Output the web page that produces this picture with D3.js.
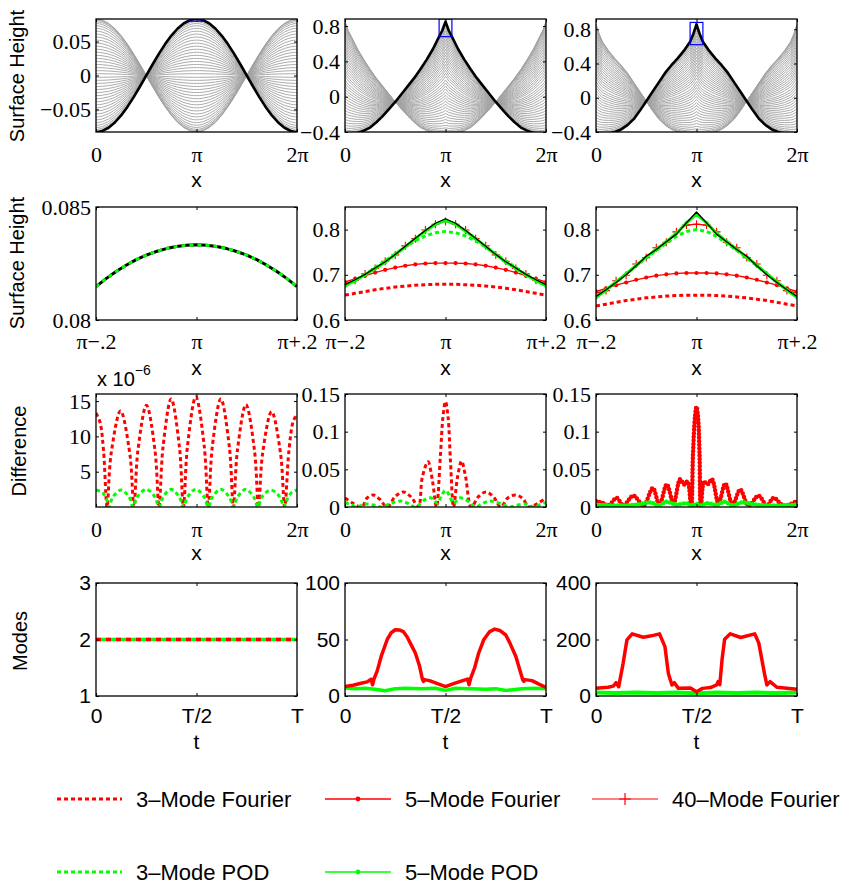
<!DOCTYPE html>
<html><head><meta charset="utf-8">
<script src="https://cdn.jsdelivr.net/npm/d3@7"></script>
<style>body{margin:0;background:#fff}</style>
</head><body><svg id="c" width="850" height="889"></svg>
<script>
// ================= DATA =================
// Row 1: x in units of pi (0..2)
const topGrid=[0,0.016,0.032,0.0637,0.125,0.1875,0.25,0.3125,0.375,0.4375,0.5,0.5625,0.625,0.6875,0.75,0.8125,0.875,0.9363,0.968,0.984,1,1.016,1.032,1.0637,1.125,1.1875,1.25,1.3125,1.375,1.4375,1.5,1.5625,1.625,1.6875,1.75,1.8125,1.875,1.9363,1.968,1.984,2];
const top1Crest=[-0.0833,-0.0832,-0.0829,-0.0817,-0.0770,-0.0693,-0.0589,-0.0463,-0.0319,-0.0162,0,0.0162,0.0319,0.0463,0.0589,0.0693,0.0770,0.0817,0.0829,0.0832,0.0833,0.0832,0.0829,0.0817,0.0770,0.0693,0.0589,0.0463,0.0319,0.0162,0,-0.0162,-0.0319,-0.0463,-0.0589,-0.0693,-0.0770,-0.0817,-0.0829,-0.0832,-0.0833];
const top1Trough=[0.0833,0.0832,0.0829,0.0817,0.0770,0.0693,0.0589,0.0463,0.0319,0.0162,0,-0.0162,-0.0319,-0.0463,-0.0589,-0.0693,-0.0770,-0.0817,-0.0829,-0.0832,-0.0833,-0.0832,-0.0829,-0.0817,-0.0770,-0.0693,-0.0589,-0.0463,-0.0319,-0.0162,0,0.0162,0.0319,0.0463,0.0589,0.0693,0.0770,0.0817,0.0829,0.0832,0.0833];
const top2Crest=[-0.43,-0.43,-0.43,-0.425,-0.41,-0.385,-0.35,-0.29,-0.22,-0.14,-0.06,0.03,0.12,0.21,0.31,0.42,0.54,0.68,0.75,0.80,0.85,0.80,0.75,0.68,0.54,0.42,0.31,0.21,0.12,0.03,-0.06,-0.14,-0.22,-0.29,-0.35,-0.385,-0.41,-0.425,-0.43,-0.43,-0.43];
const top2Trough=[0.85,0.80,0.75,0.68,0.54,0.42,0.31,0.21,0.12,0.03,-0.06,-0.14,-0.22,-0.29,-0.35,-0.385,-0.41,-0.425,-0.43,-0.43,-0.43,-0.43,-0.43,-0.425,-0.41,-0.385,-0.35,-0.29,-0.22,-0.14,-0.06,0.03,0.12,0.21,0.31,0.42,0.54,0.68,0.75,0.80,0.85];
const top3Crest=[-0.44,-0.44,-0.44,-0.435,-0.42,-0.40,-0.37,-0.32,-0.25,-0.15,-0.04,0.07,0.18,0.29,0.38,0.46,0.55,0.655,0.745,0.80,0.86,0.80,0.745,0.655,0.55,0.46,0.38,0.29,0.18,0.07,-0.04,-0.15,-0.25,-0.32,-0.37,-0.40,-0.42,-0.435,-0.44,-0.44,-0.44];
const top3Trough=[0.86,0.80,0.745,0.655,0.55,0.46,0.38,0.29,0.18,0.07,-0.04,-0.15,-0.25,-0.32,-0.37,-0.40,-0.42,-0.435,-0.44,-0.44,-0.44,-0.44,-0.44,-0.435,-0.42,-0.40,-0.37,-0.32,-0.25,-0.15,-0.04,0.07,0.18,0.29,0.38,0.46,0.55,0.655,0.745,0.80,0.86];
// share of the crest snapshot in each grey time snapshot
const topWeights=[0,0.004,0.012,0.024,0.04,0.06,0.083,0.108,0.134,0.16,0.187,0.214,0.241,0.268,0.295,0.322,0.349,0.376,0.403,0.43,0.457,0.484,0.516,0.543,0.57,0.597,0.624,0.651,0.678,0.705,0.732,0.759,0.786,0.813,0.84,0.866,0.892,0.917,0.94,0.96,0.976,0.988,0.996,1];

// Row 2: x offset from pi
const r2Grid=[-0.2,-0.18,-0.16,-0.14,-0.12,-0.1,-0.08,-0.06,-0.04,-0.02,0,0.02,0.04,0.06,0.08,0.1,0.12,0.14,0.16,0.18,0.2];
const r2p1Exact=[0.08148,0.08183,0.08215,0.08242,0.08267,0.08287,0.08303,0.08316,0.08325,0.08331,0.08333,0.08331,0.08325,0.08316,0.08303,0.08287,0.08267,0.08242,0.08215,0.08183,0.08148];
const r2p1Pod3=[0.08148,0.08183,0.08215,0.08242,0.08267,0.08287,0.08303,0.08316,0.08325,0.08331,0.08333,0.08331,0.08325,0.08316,0.08303,0.08287,0.08267,0.08242,0.08215,0.08183,0.08148];
const r2p2Exact=[0.678,0.689,0.701,0.715,0.729,0.745,0.763,0.781,0.798,0.814,0.824,0.814,0.798,0.781,0.763,0.745,0.729,0.715,0.701,0.689,0.678];
const r2p2F40=[0.680,0.688,0.702,0.714,0.730,0.744,0.764,0.780,0.799,0.812,0.818,0.812,0.799,0.780,0.764,0.744,0.730,0.714,0.702,0.688,0.680];
const r2p2P5=[0.676,0.687,0.700,0.714,0.728,0.745,0.762,0.780,0.797,0.812,0.820,0.812,0.797,0.780,0.762,0.745,0.728,0.714,0.700,0.687,0.676];
const r2p2P3=[0.675,0.688,0.701,0.716,0.731,0.746,0.762,0.775,0.786,0.793,0.796,0.793,0.786,0.775,0.762,0.746,0.731,0.716,0.701,0.688,0.675];
const r2p2F5=[0.684,0.691,0.698,0.705,0.711,0.716,0.720,0.723,0.725,0.726,0.726,0.726,0.725,0.723,0.720,0.716,0.711,0.705,0.698,0.691,0.684];
const r2p2F3=[0.655,0.659,0.663,0.667,0.670,0.673,0.675,0.677,0.678,0.679,0.679,0.679,0.678,0.677,0.675,0.673,0.670,0.667,0.663,0.659,0.655];
const r2p3Exact=[0.652,0.667,0.683,0.700,0.720,0.741,0.756,0.773,0.790,0.815,0.839,0.815,0.790,0.773,0.756,0.741,0.720,0.700,0.683,0.667,0.652];
const r2p3F40=[0.660,0.665,0.687,0.699,0.724,0.738,0.760,0.772,0.795,0.810,0.812,0.810,0.795,0.772,0.760,0.738,0.724,0.699,0.687,0.665,0.660];
const r2p3P5=[0.650,0.666,0.684,0.702,0.721,0.739,0.756,0.773,0.792,0.815,0.834,0.815,0.792,0.773,0.756,0.739,0.721,0.702,0.684,0.666,0.650];
const r2p3P3=[0.650,0.667,0.684,0.702,0.720,0.737,0.754,0.770,0.785,0.796,0.800,0.796,0.785,0.770,0.754,0.737,0.720,0.702,0.684,0.667,0.650];
const r2p3F5=[0.663,0.670,0.677,0.683,0.689,0.694,0.698,0.701,0.703,0.704,0.704,0.704,0.703,0.701,0.698,0.694,0.689,0.683,0.677,0.670,0.663];
const r2p3F3=[0.631,0.635,0.639,0.643,0.646,0.649,0.651,0.653,0.654,0.655,0.655,0.655,0.654,0.653,0.651,0.649,0.646,0.643,0.639,0.635,0.631];

// Row 3: x in units of pi
const d1F3X=[0,0.04,0.075,0.11,0.15,0.244,0.337,0.377,0.417,0.502,0.587,0.627,0.667,0.748,0.83,0.87,0.91,0.993,1.077,1.117,1.157,1.242,1.327,1.367,1.407,1.492,1.577,1.617,1.657,1.747,1.837,1.877,1.92,1.96,2];
const d1F3=[13.3,12.0,8.0,0,7.5,13.6,7.5,0,8.0,14.4,8.0,0,8.5,15.3,8.5,0,8.6,15.6,8.6,0,8.5,15.3,8.5,0,8.0,14.5,8.0,0,7.5,13.5,7.5,0,8.0,12.0,13.2];
const d1P3X=[0,0.06,0.1,0.127,0.167,0.25,0.33,0.37,0.41,0.5,0.587,0.627,0.667,0.748,0.83,0.87,0.91,0.993,1.077,1.117,1.157,1.242,1.327,1.367,1.407,1.49,1.57,1.61,1.65,1.74,1.83,1.87,1.91,1.95,2];
const d1P3=[2.4,2.1,1.3,0,1.4,2.4,1.4,0,1.4,2.5,1.4,0,1.4,2.5,1.4,0,1.4,2.5,1.4,0,1.4,2.5,1.4,0,1.4,2.5,1.4,0,1.4,2.4,1.4,0,1.3,2.1,2.4];
const d2F3X=[0,0.08,0.166,0.22,0.28,0.34,0.42,0.5,0.58,0.66,0.73,0.77,0.826,0.87,0.91,0.95,0.975,1.0,1.025,1.05,1.08,1.12,1.16,1.2,1.256,1.33,1.405,1.48,1.55,1.62,1.7,1.77,1.83,1.92,2];
const d2F3=[0.012,0.005,0,0.012,0.016,0.011,0,0.014,0.02,0.013,0,0.04,0.06,0.035,0,0.07,0.12,0.14,0.12,0.06,0,0.04,0.061,0.04,0,0.014,0.02,0.013,0,0.012,0.016,0.011,0,0.005,0.012];
const d2P3X=[0,0.06,0.12,0.2,0.3,0.36,0.46,0.56,0.64,0.7,0.8,0.86,0.92,0.96,1.0,1.04,1.08,1.14,1.2,1.3,1.36,1.44,1.54,1.64,1.7,1.8,1.88,1.94,2];
const d2P3=[0.006,0.003,0,0.004,0.002,0,0.005,0.008,0.004,0,0.01,0.012,0.005,0.015,0.022,0.015,0.005,0.012,0.01,0,0.004,0.008,0.005,0,0.002,0.004,0,0.003,0.006];
const d3F3X=[0,0.073,0.123,0.206,0.272,0.372,0.472,0.565,0.631,0.704,0.771,0.837,0.877,0.91,0.947,0.965,0.985,1.0,1.015,1.03,1.043,1.076,1.11,1.153,1.219,1.286,1.359,1.435,1.518,1.618,1.7,1.767,1.867,2];
const d3F3=[0.008,0.005,0.002,0.012,0.002,0.015,0.002,0.025,0.003,0.030,0.005,0.037,0.030,0.034,0.0,0.07,0.12,0.133,0.12,0.07,0.0,0.034,0.030,0.037,0.005,0.031,0.003,0.023,0.002,0.015,0.002,0.012,0.002,0.008];
const d3P3X=[0,0.2,0.4,0.55,0.62,0.7,0.8,0.9,0.95,1.0,1.05,1.1,1.2,1.28,1.36,1.45,1.6,1.8,2];
const d3P3=[0.003,0.002,0.003,0.006,0.002,0.007,0.003,0.005,0.002,0.004,0.002,0.005,0.003,0.007,0.002,0.006,0.003,0.002,0.003];

// Row 4: t as fraction of T
const m1T=[0,1], m1F=[2,2], m1P=[2,2];
const m2FT=[0,0.04,0.075,0.11,0.13,0.137,0.145,0.16,0.18,0.21,0.23,0.25,0.27,0.29,0.31,0.33,0.35,0.37,0.385,0.39,0.395,0.42,0.46,0.5,0.54,0.585,0.61,0.617,0.625,0.645,0.665,0.69,0.72,0.745,0.77,0.8,0.82,0.85,0.875,0.885,0.89,0.895,0.93,0.965,1];
const m2F=[8.3,9.5,11,12.5,14.8,10,15.5,22,35,50,56,58.6,58.5,57,52,45,38,27,15,13,14.5,13.6,11,8.3,11,13.6,15,10,15.5,25,38,49.7,57,59.2,58,54,47,35,20,14,13,14.5,13.6,10.5,7.7];
const m2PT=[0,0.05,0.1,0.15,0.2,0.25,0.3,0.38,0.45,0.5,0.55,0.62,0.7,0.75,0.8,0.88,0.94,1];
const m2P=[7,6.5,6.8,6,4.6,6.5,6.8,6.5,6.8,5,6.8,6.5,6,6.5,4.8,6.5,6.8,6.5];
const m3FT=[0,0.06,0.086,0.1,0.113,0.135,0.154,0.18,0.235,0.276,0.316,0.343,0.36,0.378,0.39,0.41,0.47,0.5,0.53,0.57,0.6,0.608,0.616,0.627,0.64,0.668,0.72,0.79,0.81,0.838,0.85,0.866,0.9,1];
const m3F=[27,31,35,47,33,116,199,220,208,213,220,175,80,39,47,27,28,15,27,30,39,51,40,128,201,220,207,220,187,80,39,51,31,24];
const m3PT=[0,0.1,0.2,0.3,0.4,0.5,0.6,0.7,0.8,0.9,1];
const m3P=[12,11,12,11,12,10,12,11,12,11,12];

// ticks
const piTicks=[0,1,2], piLabels=["0","π","2π"];
const zoomTicks=[-0.2,0,0.2], zoomLabels=["π−.2","π","π+.2"];
const tTicks=[0,0.5,1], tLabels=["0","T/2","T"];
const legendLabels=["3–Mode Fourier","5–Mode Fourier","40–Mode Fourier","3–Mode POD","5–Mode POD"];

// ================= DRAWING =================
const RED="#ff0000", GREEN="#00ff00", GRAY="#a2a2a2", BLUE="#0000ff";
const serif="'Liberation Serif','Times New Roman',Times,serif";
const sans="'Liberation Sans',Arial,Helvetica,sans-serif";
const ST={
  f3:{color:RED,width:3,dash:"4 3"},
  f5:{color:RED,width:1.3,marker:"dot"},
  f40:{color:RED,width:1.2,marker:"plus"},
  p3:{color:GREEN,width:3,dash:"4 3"},
  p5:{color:GREEN,width:1.3,marker:"dot"}
};
const svg=d3.select("#c");
const defs=svg.append("defs");
const colX=[96,345,596], PW=201;
const rows=[[19,132],[207,320],[394,507],[583,696]];

function makePanel(r,c,xdom,ydom){
  const L=colX[c], T=rows[r][0], B=rows[r][1];
  const x=d3.scaleLinear().domain(xdom).range([L,L+PW]);
  const y=d3.scaleLinear().domain(ydom).range([B,T]);
  const id="clip"+r+c;
  defs.append("clipPath").attr("id",id).append("rect").attr("x",L).attr("y",T).attr("width",PW).attr("height",B-T);
  const g=svg.append("g").attr("clip-path","url(#"+id+")");
  return {x,y,g,r,c,L,T,B};
}
function drawLine(p,xs,ys,st){
  const pts=xs.map((d,i)=>[d,ys[i]]);
  const line=d3.line().x(d=>p.x(d[0])).y(d=>p.y(d[1])).curve(st.curve||d3.curveLinear);
  const path=p.g.append("path").attr("d",line(pts)).attr("fill","none")
    .attr("stroke",st.color).attr("stroke-width",st.width).attr("stroke-linejoin","round");
  if(st.dash) path.attr("stroke-dasharray",st.dash);
  if(st.cap) path.attr("stroke-linecap",st.cap);
  if(st.marker==="dot") p.g.selectAll(null).data(pts).enter().append("circle")
    .attr("cx",d=>p.x(d[0])).attr("cy",d=>p.y(d[1])).attr("r",st.mr||2.1).attr("fill",st.color);
  if(st.marker==="plus") p.g.selectAll(null).data(pts).enter().append("path")
    .attr("d",d=>{const X=p.x(d[0]),Y=p.y(d[1]),s=st.ms||4;return `M${X-s},${Y}H${X+s}M${X},${Y-s}V${Y+s}`;})
    .attr("stroke",st.color).attr("stroke-width",1.1).attr("fill","none");
}
function axes(p,xt,xl,yt,yl,font,size,xpad){
  const fx=d=>xl[xt.indexOf(d)], fy=d=>yl[yt.indexOf(d)], none=()=>"";
  const gb=svg.append("g").attr("transform",`translate(0,${p.B})`)
    .call(d3.axisBottom(p.x).tickValues(xt).tickFormat(fx).tickSizeInner(-3).tickSizeOuter(0).tickPadding(xpad));
  const gt=svg.append("g").attr("transform",`translate(0,${p.T})`)
    .call(d3.axisTop(p.x).tickValues(xt).tickFormat(none).tickSizeInner(-3).tickSizeOuter(0));
  const gl=svg.append("g").attr("transform",`translate(${p.L},0)`)
    .call(d3.axisLeft(p.y).tickValues(yt).tickFormat(fy).tickSizeInner(-3).tickSizeOuter(0).tickPadding(5));
  const gr=svg.append("g").attr("transform",`translate(${p.L+PW},0)`)
    .call(d3.axisRight(p.y).tickValues(yt).tickFormat(none).tickSizeInner(-3).tickSizeOuter(0));
  [gb,gt,gl,gr].forEach(g=>{
    g.select(".domain").remove();
    g.selectAll("line").attr("stroke","#000").attr("stroke-width",1);
    g.attr("font-family",font).attr("font-size",size);
    g.selectAll("text").attr("fill","#000").style("font-family",font).style("font-size",size+"px");
  });
  svg.append("rect").attr("x",p.L).attr("y",p.T).attr("width",PW).attr("height",p.B-p.T)
    .attr("fill","none").attr("stroke","#000").attr("stroke-width",1.3);
}
function xLabel(p,txt,y){
  svg.append("text").attr("x",p.L+PW/2).attr("y",y).attr("text-anchor","middle")
    .style("font-family",sans).style("font-size","21px").text(txt);
}
function yLabel(txt,x,y){
  svg.append("text").attr("transform",`translate(${x},${y}) rotate(-90)`).attr("text-anchor","middle")
    .attr("dy","0.35em").style("font-family",sans).style("font-size","20px").text(txt);
}

// ---- Row 1 ----
const topSets=[
  {crest:top1Crest,trough:top1Trough,ydom:[-0.0833,0.0833],yt:[-0.05,0,0.05],yl:["−0.05","0","0.05"],box:[0.08,0.085]},
  {crest:top2Crest,trough:top2Trough,ydom:[-0.4,0.88],yt:[-0.4,0,0.4,0.8],yl:["−0.4","0","0.4","0.8"],box:[0.68,0.88]},
  {crest:top3Crest,trough:top3Trough,ydom:[-0.4,0.92],yt:[-0.4,0,0.4,0.8],yl:["−0.4","0","0.4","0.8"],box:[0.62,0.88]}
];
topSets.forEach((s,c)=>{
  const p=makePanel(0,c,[0,2],s.ydom);
  topWeights.forEach(w=>{
    const ys=s.crest.map((b,i)=>w*b+(1-w)*s.trough[i]);
    drawLine(p,topGrid,ys,{color:GRAY,width:0.9});
  });
  drawLine(p,topGrid,s.crest,{color:"#000",width:2.6});
  p.g.append("rect").attr("x",p.x(1-0.2/Math.PI)).attr("y",p.y(s.box[1]))
    .attr("width",p.x(1+0.2/Math.PI)-p.x(1-0.2/Math.PI)).attr("height",p.y(s.box[0])-p.y(s.box[1]))
    .attr("fill","none").attr("stroke",BLUE).attr("stroke-width",1.2);
  axes(p,piTicks,piLabels,s.yt,s.yl,serif,22,14);
  xLabel(p,"x",187);
});

// ---- Row 2 ----
{
  const p=makePanel(1,0,[-0.2,0.2],[0.08,0.085]);
  drawLine(p,r2Grid,r2p1Exact,{color:"#000",width:3});
  drawLine(p,r2Grid,r2p1Pod3,{color:GREEN,width:3,dash:"4 4"});
  axes(p,zoomTicks,zoomLabels,[0.08,0.085],["0.08","0.085"],serif,22,13);
  xLabel(p,"x",375);
}
[[r2p2Exact,r2p2F40,r2p2P5,r2p2P3,r2p2F5,r2p2F3],[r2p3Exact,r2p3F40,r2p3P5,r2p3P3,r2p3F5,r2p3F3]].forEach((s,i)=>{
  const p=makePanel(1,i+1,[-0.2,0.2],[0.6,0.85]);
  const [ex,f40,p5,p3,f5,f3]=s;
  drawLine(p,r2Grid,f3,ST.f3);
  drawLine(p,r2Grid,f5,ST.f5);
  drawLine(p,r2Grid,f40,Object.assign({},ST.f40,{ms:4}));
  drawLine(p,r2Grid,p3,ST.p3);
  drawLine(p,r2Grid,p5,{color:GREEN,width:3,marker:"dot",mr:2});
  drawLine(p,r2Grid,ex,{color:"#000",width:1.3});
  axes(p,zoomTicks,zoomLabels,[0.6,0.7,0.8],["0.6","0.7","0.8"],serif,22,13);
  xLabel(p,"x",375);
});

// ---- Row 3 ----
{
  const p=makePanel(2,0,[0,2],[0,16]);
  drawLine(p,d1F3X,d1F3,{color:RED,width:3,dash:"4 3",curve:d3.curveCatmullRom});
  drawLine(p,d1P3X,d1P3,{color:GREEN,width:3,dash:"4 3",curve:d3.curveCatmullRom});
  axes(p,piTicks,piLabels,[5,10,15],["5","10","15"],serif,22,14);
  xLabel(p,"x",560);
  const t=svg.append("text").attr("x",97).attr("y",386).style("font-family",sans).style("font-size","20px");
  t.append("tspan").text("x 10");
  t.append("tspan").attr("dy",-11).style("font-size","14px").text("−6");
}
{
  const p=makePanel(2,1,[0,2],[0,0.15]);
  drawLine(p,d2F3X,d2F3,{color:RED,width:3,dash:"4 3",curve:d3.curveCatmullRom});
  drawLine(p,d2P3X,d2P3,{color:GREEN,width:3,dash:"4 3",curve:d3.curveCatmullRom});
  axes(p,piTicks,piLabels,[0,0.05,0.1,0.15],["0","0.05","0.1","0.15"],serif,22,14);
  xLabel(p,"x",560);
}
{
  const p=makePanel(2,2,[0,2],[0,0.15]);
  drawLine(p,d3F3X,d3F3,{color:RED,width:2,curve:d3.curveCatmullRom});
  drawLine(p,d3F3X,d3F3,{color:RED,width:4.5,dash:"0 3.6",cap:"round",curve:d3.curveCatmullRom});
  drawLine(p,d3P3X,d3P3,{color:GREEN,width:2,curve:d3.curveCatmullRom});
  drawLine(p,d3P3X,d3P3,{color:GREEN,width:4.5,dash:"0 3.6",cap:"round",curve:d3.curveCatmullRom});
  axes(p,piTicks,piLabels,[0,0.05,0.1,0.15],["0","0.05","0.1","0.15"],serif,22,14);
  xLabel(p,"x",560);
}

// ---- Row 4 ----
{
  const p=makePanel(3,0,[0,1],[1,3]);
  drawLine(p,m1T,m1P,{color:GREEN,width:3.5});
  drawLine(p,m1T,m1F,{color:RED,width:3.5,dash:"5 5"});
  axes(p,tTicks,tLabels,[1,2,3],["1","2","3"],sans,21,12);
  xLabel(p,"t",749);
}
{
  const p=makePanel(3,1,[0,1],[0,100]);
  drawLine(p,m2PT,m2P,{color:GREEN,width:3.5});
  drawLine(p,m2FT,m2F,{color:RED,width:3.5});
  axes(p,tTicks,tLabels,[0,50,100],["0","50","100"],sans,21,12);
  xLabel(p,"t",749);
}
{
  const p=makePanel(3,2,[0,1],[0,400]);
  drawLine(p,m3PT,m3P,{color:GREEN,width:4});
  drawLine(p,m3FT,m3F,{color:RED,width:3.5});
  axes(p,tTicks,tLabels,[0,200,400],["0","200","400"],sans,21,12);
  xLabel(p,"t",749);
}

// ---- Y labels ----
yLabel("Surface Height",17,76);
yLabel("Surface Height",17,263);
yLabel("Difference",19,451);
yLabel("Modes",20,641);

// ---- Legend ----
const legKeys=["f3","f5","f40","p3","p5"];
const legPos=[[57,122,136,799],[325,391,405,799],[592,658,672,799],[57,122,136,872],[325,391,405,872]];
legKeys.forEach((k,i)=>{
  const st=ST[k], [x0,x1,tx,y]=legPos[i];
  const lg=svg.append("g");
  const ln=lg.append("line").attr("x1",x0).attr("x2",x1).attr("y1",y).attr("y2",y)
    .attr("stroke",st.color).attr("stroke-width",st.width);
  if(st.dash) ln.attr("stroke-dasharray",st.dash);
  const cx=(x0+x1)/2;
  if(st.marker==="dot") lg.append("circle").attr("cx",cx).attr("cy",y).attr("r",2.4).attr("fill",st.color);
  if(st.marker==="plus") lg.append("path").attr("d",`M${cx-6},${y}H${cx+6}M${cx},${y-6}V${y+6}`).attr("stroke",st.color).attr("stroke-width",1.2);
  lg.append("text").attr("x",tx).attr("y",y).attr("dy","0.36em").style("font-family",sans).style("font-size","22px").text(legendLabels[i]);
});
</script></body></html>
